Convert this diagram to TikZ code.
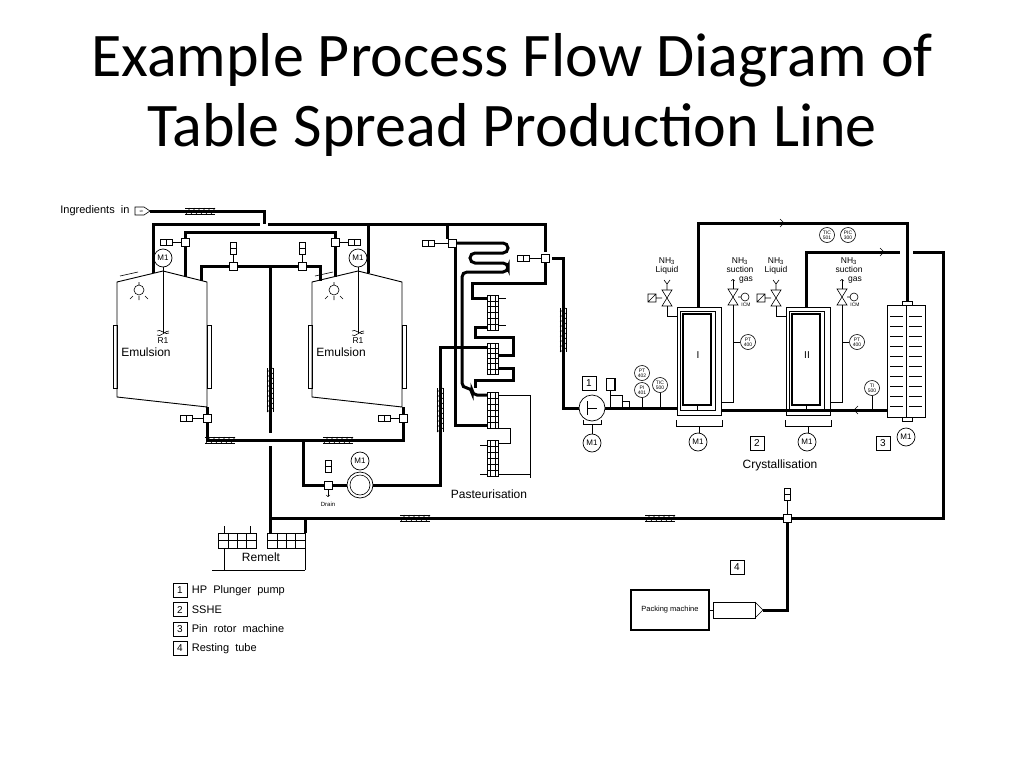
\documentclass[tikz,border=0pt]{standalone}
\usepackage{fontspec}
\setmainfont{Liberation Sans}
\newfontfamily\titlefont{Carlito}
\usetikzlibrary{positioning,calc}

\tikzset{
    pipe/.style={line width=3pt},
    fine/.style={line width=0.6pt},
    vessel/.style={line width=0.9pt},
    inst/.style={circle, draw, line width=0.6pt, inner sep=0pt, minimum size=15pt, font=\fontsize{5}{5}\selectfont, align=center},
    motor/.style={circle, draw, line width=0.7pt, inner sep=0pt, minimum size=18pt, font=\fontsize{8}{8}\selectfont},
    numbox/.style={draw, line width=0.7pt, inner sep=1pt, minimum size=14pt, font=\fontsize{10}{10}\selectfont},
    lbl/.style={font=\fontsize{12}{13}\selectfont},
    small/.style={font=\fontsize{8.5}{9}\selectfont, align=center, inner sep=0pt}
}
% pipe supports
\newcommand\hatchh[2]{%
    \draw[fine] (#1-15,#2-3) -- (#1+15,#2-3) (#1-15,#2+3) -- (#1+15,#2+3);
    \foreach \k in {-12,-7,...,13} \draw[fine] (#1+\k-2,#2+3) -- (#1+\k+2,#2-3);}
\newcommand\hatchv[2]{%
    \draw[fine] (#1-3,#2-22) -- (#1-3,#2+22) (#1+3,#2-22) -- (#1+3,#2+22);
    \foreach \k in {-20,-15,...,20} \draw[fine] (#1-3,#2+\k+2) -- (#1+3,#2+\k-2);}
% actuator box
\newcommand\actr[2]{%
    \draw[fine, fill=white] (#1-6,#2-3) rectangle (#1+6,#2+3);
    \draw[fine] (#1,#2-3) -- (#1,#2+3);}
\newcommand\actrv[2]{%
    \draw[fine, fill=white] (#1-3,#2-6) rectangle (#1+3,#2+6);
    \draw[fine] (#1-3,#2) -- (#1+3,#2);}
% two way valve on a pipe
\newcommand\tee[2]{\draw[fine, fill=white] (#1-4,#2-4) rectangle (#1+4,#2+4);}
% bowtie valve
\newcommand\bvalve[2]{\draw[fine, fill=white] (#1-5,#2-8) -- (#1+5,#2-8) -- (#1-5,#2+8) -- (#1+5,#2+8) -- cycle;}
% plate section of the heat exchanger
\newcommand\plates[2]{%
    \draw[vessel, fill=white] (487,#1) rectangle (498,#2);
    \draw[fine] (490,#1) -- (490,#2) (495,#1) -- (495,#2);
    \pgfmathsetmacro\st{(#2-#1)/6}
    \foreach \j in {1,...,5} \draw[fine] (487,#1+\j*\st) -- (498,#1+\j*\st);}
% remelt exchanger
\newcommand\remeltbox[1]{%
    \draw[vessel] (#1,533) rectangle (#1+38,548);
    \foreach \j in {10,19,28} \draw[fine] (#1+\j,533) -- (#1+\j,548);
    \draw[fine] (#1,540.5) -- (#1+38,540.5);}

\begin{document}
\begin{tikzpicture}[x=1pt, y=-1pt]
    \useasboundingbox (0,0) rectangle (1024,768);

    % Title
    \node[font=\titlefont\fontsize{62}{70}\selectfont, align=center] (title) at (512,95)
        {Example Process Flow Diagram of\\Table Spread Production Line};

    % Ingredients inlet
    \node[lbl, anchor=east, font=\fontsize{11}{12}\selectfont] (ingr) at (133,211) {Ingredients\ \ in};
    \draw[fine] (135,207) -- (144,207) -- (150,211) -- (144,215) -- (135,215) -- cycle;
    \node[font=\fontsize{3}{3}\selectfont] at (141,211) {10};
    \draw[pipe] (150,211) -- (264,211) -- (264,224);
    \hatchh{200}{211}

    % Emulsion tanks
    \foreach \dx/\nm in {0/tankA, 195/tankB} {
        \begin{scope}[xshift=\dx]
            \draw[vessel] (117,397) -- (117,282) -- (163,271) -- (207,282) -- (207,407) -- cycle;
            \draw[fine] (113,325) rectangle (117,388) (207,325) rectangle (211,388);
            \draw[fine] (120,276) -- (138,272);
            \node[motor] (\nm m) at (163,258) {M1};
            \draw[fine] (\nm m.south) -- (163,333);
            \draw[fine] (157,331) .. controls (160,328) and (166,336) .. (169,333)
                        (157,335) .. controls (160,338) and (166,330) .. (169,331);
            \node[small] at (163,341) {R1};
            \draw[fine] (139,282) -- (139,285) (139,290) circle (5pt);
            \draw[fine] (133,296) -- (130,299) (139,296) -- (139,300) (145,296) -- (148,299);
            \node[lbl] at (146,352) {Emulsion};
        \end{scope}
    }

    % Filling and recirculation loops
    \draw[pipe] (153,273) -- (153,224) -- (260,224);
    \draw[pipe] (268,224) -- (545,224) -- (545,252);
    \draw[pipe] (368,224) -- (368,273);
    \draw[pipe] (185,277) -- (185,232) -- (335,232) -- (335,277);
    \draw[pipe] (201,281) -- (201,266) -- (320,266) -- (320,281);
    \draw[pipe] (270,266) -- (270,433) (270,446) -- (270,533);
    \draw[pipe] (207,407) -- (207,440) -- (403,440) -- (403,407);
    \draw[pipe] (303,440) -- (303,485) -- (347,485) (373,485) -- (440,485) -- (440,347) -- (487,347);
    \hatchh{220}{440} \hatchh{338}{440}
    \hatchv{270}{390} \hatchv{440}{410}
    \tee{185}{242} \actr{166}{242}
    \tee{335}{242} \actr{354}{242}
    \tee{233}{266} \actrv{233}{248}
    \tee{302}{266} \actrv{302}{248}
    \tee{207}{418} \actr{186}{418}
    \tee{403}{418} \actr{384}{418}
    \draw[fine] (172,242) -- (181,242) (348,242) -- (339,242) (192,418) -- (203,418) (390,418) -- (399,418)
                (233,254) -- (233,262) (302,254) -- (302,262);

    % Feed pump and drain
    \node[motor, minimum size=26pt] (fpump) at (360,485) {};
    \draw[fine] (360,485) circle (10pt);
    \node[motor] (fpumpm) at (360,461) {M1};
    \tee{328}{485} \actrv{328}{466}
    \draw[fine, ->] (328,489) -- (328,497);
    \node[small, font=\fontsize{6}{6}\selectfont] (drain) at (328,504) {Drain};

    % Pasteurisation
    \tee{452}{243} \actr{428}{243}
    \draw[fine] (434,243) -- (448,243);
    \draw[pipe] (447,224) -- (447,239);
    \draw[pipe, rounded corners=5pt] (456,243) -- (508,243) -- (508,253) -- (470,253) -- (470,263)
        -- (508,263) -- (508,272) -- (462,272) -- (462,388) -- (472,388) -- (472,395) -- (487,395);
    \draw[pipe] (455,247) -- (455,425) -- (487,425);
    \tee{545}{258} \actr{523}{258}
    \draw[fine] (529,258) -- (541,258);
    \draw[pipe] (545,262) -- (545,283) -- (472,283) -- (472,298) -- (487,298);
    \draw[pipe] (487,327) -- (475,327) -- (475,337) -- (513,337) -- (513,355) -- (498,355);
    \draw[pipe] (498,368) -- (513,368) -- (513,380) -- (475,380) -- (475,388);
    \plates{295}{330} \plates{343}{374} \plates{392}{428} \plates{440}{476}
    \draw[fine] (498,395) -- (530,395) -- (530,478) (498,474) -- (530,474)
                (498,428) -- (510,428) -- (510,443) -- (498,443);
    \draw[fine] (498,298) -- (506,298) (498,325) -- (506,325) (487,445) -- (480,445) (487,474) -- (480,474);
    \node[lbl] (past) at (489,494) {Pasteurisation};

    % HP plunger pump
    \draw[pipe] (552,258) -- (563,258) -- (563,408) -- (579,408);
    \hatchv{563}{330}
    \node[motor, minimum size=26pt] (hpp) at (592,408) {};
    \draw[fine] (587,401) -- (587,415) (587,408) -- (597,408);
    \draw[fine] (583,420) -- (583,424) -- (601,424) -- (601,420) (592,424) -- (592,434);
    \node[motor] (hppm) at (592,443) {M1};
    \node[numbox] (n1) at (589,383) {1};
    \draw[pipe] (605,408) -- (677,408);
    \draw[fine] (606,378) rectangle (615,390) (614,378) -- (614,390);
    \draw[fine] (610,390) -- (610,395) (610,395) rectangle (622,407);
    \draw[fine] (622,401) -- (629,401) -- (629,407) (626,407) -- (632,407);
    \node[inst] (pt402) at (642,373) {PT\\402};
    \node[inst] (pi401) at (642,390) {PI\\401};
    \node[inst] (tic500) at (660,385) {TIC\\500};
    \draw[fine] (pi401.south) -- (642,408) (tic500.south) -- (660,408);

    % Scraped surface heat exchangers
    \foreach \xx/\rn/\nm in {677/I/sshea, 786/II/ssheb} {
        \draw[vessel] (\xx,307) rectangle (\xx+44,415);
        \draw[vessel] (\xx+3,311) rectangle (\xx+38,410);
        \draw[line width=1.6pt] (\xx+6,314) rectangle (\xx+34,405);
        \draw[fine] (\xx+20,405) -- (\xx+20,410) (\xx-1,420) -- (\xx-1,426) -- (\xx+45,426) -- (\xx+45,420)
                    (\xx+22,426) -- (\xx+22,433);
        \node[lbl, font=\fontsize{10}{10}\selectfont] at (\xx+21,355) {\rn};
        \node[motor] (\nm m) at (\xx+21,442) {M1};
        \bvalve{\xx-10}{298} \bvalve{\xx+56}{297}
        \draw[fine] (\xx-10,306) -- (\xx-10,316) -- (\xx,316);
        \draw[fine] (\xx-10,290) -- (\xx-10,284) (\xx-13,280) -- (\xx-10,284) -- (\xx-7,280);
        \draw[fine] (\xx-29,294) rectangle (\xx-21,302) (\xx-29,302) -- (\xx-21,294) (\xx-21,298) -- (\xx-15,298);
        \draw[fine] (\xx+56,305) -- (\xx+56,402) -- (\xx+44,402);
        \draw[fine, ->] (\xx+56,289) -- (\xx+56,279);
        \draw[fine] (\xx+61,297) -- (\xx+64,297) (\xx+68,297) circle (4pt);
        \node[small, font=\fontsize{5}{5}\selectfont] at (\xx+69,305) {ICM};
        \node[small] at (\xx-10,266) {NH\textsubscript{3}\\Liquid};
        \node[small] at (\xx+63,270) {NH\textsubscript{3}\\suction\\\hspace*{12pt}gas};
        \node[inst] (\nm pt) at (\xx+71,342) {PT\\400};
        \draw[fine] (\xx+56,342) -- (\nm pt.west);
    }
    \node[numbox] (n2) at (757,443) {2};
    \node[lbl] (cryst) at (780,465) {Crystallisation};

    % Pin rotor machine
    \draw[vessel] (887,305) rectangle (925,417);
    \draw[fine] (902,301) rectangle (912,305) (902,417) rectangle (912,421);
    \draw[fine] (906,305) -- (906,417);
    \foreach \yy in {316,326,...,410} \draw[fine] (890,\yy) -- (903,\yy) (909,\yy) -- (922,\yy);
    \node[motor] (pinm) at (906,437) {M1};
    \node[numbox] (n3) at (883,443) {3};
    \node[inst] (ti500) at (872,388) {TI\\500};
    \draw[fine] (ti500.south) -- (872,410);
    \node[inst] (tic501) at (827,235) {TIC\\501};
    \node[inst] (pic300) at (848,235) {PIC\\300};

    % Product lines
    \draw[pipe] (698,307) -- (698,223) -- (907,223) -- (907,301);
    \draw[pipe] (806,307) -- (806,252) -- (900,252);
    \draw[pipe] (913,252) -- (943,252) -- (943,518) -- (791,518);
    \draw[pipe] (887,410) -- (721,410);
    \draw[fine] (780,219) -- (784,223) -- (780,227) (880,248) -- (884,252) -- (880,256) (858,406) -- (854,410) -- (858,414);

    % Return to remelt
    \draw[pipe] (783,518) -- (270,518) -- (270,533);
    \draw[pipe] (305,518) -- (305,533);
    \hatchh{415}{518} \hatchh{660}{518}
    \tee{787}{518} \actrv{787}{494}
    \draw[fine] (787,500) -- (787,514);
    \remeltbox{218} \remeltbox{267}
    \node[lbl] (remelt) at (261,557) {Remelt};
    \draw[fine] (224,548) -- (224,570) (305,548) -- (305,570) (212,570) -- (305,570)
                (224,533) -- (224,526) (250,533) -- (250,526);

    % Resting tube and packing machine
    \draw[pipe] (787,522) -- (787,610) -- (763,610);
    \draw[vessel] (713,602) rectangle (755,618);
    \draw[fine] (755,602) -- (763,610) -- (755,618);
    \node[numbox] (n4) at (737,567) {4};
    \node[draw, line width=2.2pt, minimum width=78pt, minimum height=40pt, font=\fontsize{7.5}{8}\selectfont]
        (pack) at (670,610) {Packing machine};
    \draw[fine] (pack.east) -- (713,610);

    % Legend
    \foreach \i/\txt in {1/HP\ \ Plunger\ \ pump, 2/SSHE, 3/Pin\ \ rotor\ \ machine, 4/Resting\ \ tube} {
        \node[numbox, minimum size=14pt, font=\fontsize{10}{10}\selectfont] (leg\i) at (180,571+19.3*\i) {\i};
        \node[lbl, anchor=west, font=\fontsize{11}{12}\selectfont, right=1pt of leg\i] {\txt};
    }
\end{tikzpicture}
\end{document}
